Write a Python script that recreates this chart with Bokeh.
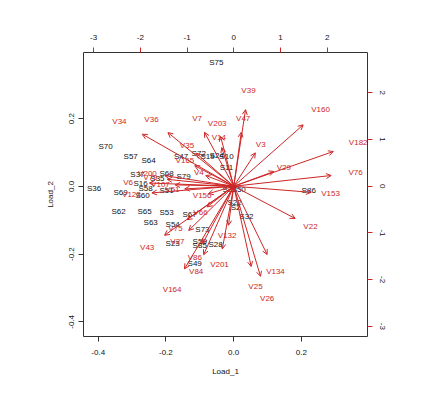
from bokeh.plotting import figure
from bokeh.models import Range1d, LinearAxis, FixedTicker, Arrow, OpenHead, ColumnDataSource
from bokeh.embed import file_html
from bokeh.resources import INLINE
from bokeh.core.properties import value

# ---- data -------------------------------------------------------------
sample_names = ["S75", "S70", "S57", "S64", "S47", "S72", "S19", "S24", "S10", "S11",
                "S68", "S79", "S37", "S35", "S16", "S58", "S51", "S36", "S69", "S60",
                "S62", "S65", "S53", "S67", "S63", "S54", "S73", "S23", "S59", "S85",
                "S28", "S49", "S86", "S32", "S22", "S2", "S33", "S50"]
sample_load1 = [-0.051, -0.378, -0.304, -0.251, -0.155, -0.103, -0.077, -0.050, -0.021, -0.021,
                -0.198, -0.148, -0.284, -0.225, -0.275, -0.260, -0.198, -0.412, -0.334, -0.269,
                -0.340, -0.263, -0.198, -0.130, -0.245, -0.180, -0.092, -0.180, -0.100, -0.100,
                -0.053, -0.115, 0.222, 0.038, 0.003, 0.006, -0.012, 0.015]
sample_load2 = [0.365, 0.119, 0.088, 0.076, 0.088, 0.097, 0.088, 0.091, 0.088, 0.057,
                0.039, 0.030, 0.034, 0.023, 0.008, -0.007, -0.013, -0.006, -0.019, -0.027,
                -0.075, -0.075, -0.077, -0.082, -0.107, -0.112, -0.128, -0.169, -0.162, -0.175,
                -0.173, -0.228, -0.013, -0.090, -0.048, -0.063, -0.010, -0.010]

var_names = ["V39", "V47", "V160", "V3", "V182", "V76", "V29", "V153", "V22", "V132",
             "V134", "V25", "V26", "V201", "V84", "V86", "V164", "V43", "V34", "V36",
             "V7", "V203", "V35", "V14", "V165", "V4", "V156", "V6", "V200", "V123",
             "V107", "V79", "V51", "V66", "V75", "V27"]
var_pc1 = [0.315, 0.201, 1.857, 0.578, 2.664, 2.606, 1.071, 2.071, 1.642, -0.141,
           0.893, 0.465, 0.715, -0.306, -0.805, -0.835, -1.319, -1.854, -2.448, -1.762,
           -0.784, -0.355, -1.002, -0.321, -1.045, -0.749, -0.677, -2.261, -1.848, -2.191,
           -1.570, -1.784, -1.313, -0.713, -1.248, -1.206]
var_pc2 = [2.049, 1.443, 1.642, 0.893, 0.929, 0.287, 0.394, -0.163, -0.863, -1.045,
           -1.827, -2.148, -2.411, -1.677, -1.833, -1.533, -2.212, -1.313, 1.392, 1.435,
           1.443, 1.336, 0.882, 1.036, 0.550, 0.287, -0.199, 0.086, 0.283, -0.178,
           0.036, 0.186, -0.071, -0.552, -0.895, -1.184]

load_ticks = [-0.4, -0.2, 0.0, 0.2]
load_tick_labels = ["-0.4", "-0.2", "0.0", "0.2"]
var_ticks = [-3, -2, -1, 0, 1, 2]
var_tick_labels = ["-3", "-2", "-1", "0", "1", "2"]
x_label = "Load_1"
y_label = "Load_2"

# ---- style ------------------------------------------------------------
RED = "#CD2626"
BLACK = "#111111"
FONT = "Liberation Sans"
FS = "8px"
ARROW_SCALE = 0.8

p = figure(frame_width=284, frame_height=284,
           min_border_left=83, min_border_right=48, min_border_top=52, min_border_bottom=53,
           x_range=Range1d(-0.4434, 0.3956), y_range=Range1d(-0.4434, 0.3956),
           output_backend="svg", toolbar_location=None, background_fill_color="white",
           border_fill_color="white")
p.extra_x_ranges = {"vx": Range1d(-3.217, 2.863)}
p.extra_y_ranges = {"vy": Range1d(-3.217, 2.863)}
p.grid.visible = False
p.outline_line_color = "#333333"
p.outline_line_width = 1

right_axis = LinearAxis(y_range_name="vy")
top_axis = LinearAxis(x_range_name="vx")
p.add_layout(top_axis, "above")
p.add_layout(right_axis, "right")

for ax in p.xaxis + p.yaxis:
    ax.axis_line_color = None
    ax.major_tick_in = 0
    ax.major_tick_out = 5
    ax.minor_tick_line_color = None
    ax.major_label_text_font = FONT
    ax.major_label_text_font_size = FS
    ax.major_label_text_color = BLACK
    ax.axis_label_text_font = FONT
    ax.axis_label_text_font_size = FS
    ax.axis_label_text_font_style = "normal"
    ax.axis_label_text_color = BLACK

bottom_axis = p.below[0]
left_axis = p.left[0]
bottom_axis.ticker = FixedTicker(ticks=load_ticks)
bottom_axis.major_label_overrides = dict(zip(load_ticks, load_tick_labels))
left_axis.ticker = FixedTicker(ticks=load_ticks)
left_axis.major_label_overrides = dict(zip(load_ticks, load_tick_labels))
bottom_axis.axis_label = x_label
left_axis.axis_label = y_label
bottom_axis.major_tick_line_color = "#333333"
left_axis.major_tick_line_color = "#333333"
bottom_axis.major_label_standoff = 8
bottom_axis.axis_label_standoff = 9
left_axis.major_label_orientation = "vertical"
left_axis.major_label_standoff = 4
left_axis.axis_label_standoff = 12

for ax in (top_axis, right_axis):
    ax.ticker = FixedTicker(ticks=var_ticks)
    ax.major_label_overrides = dict(zip(var_ticks, var_tick_labels))
    ax.major_tick_line_color = RED
top_axis.major_label_standoff = 8
right_axis.major_label_standoff = 7
right_axis.major_label_orientation = "vertical"

# sample labels
p.text(x=sample_load1, y=sample_load2, text=sample_names, text_color=BLACK,
       text_font=value(FONT), text_font_size=FS, text_align="center", text_baseline="middle")

# variable labels
p.text(x=var_pc1, y=var_pc2, text=var_names, text_color=RED, x_range_name="vx", y_range_name="vy",
       text_font=value(FONT), text_font_size=FS, text_align="center", text_baseline="middle")

# arrows
arr_src = ColumnDataSource(dict(
    x0=[0.0] * len(var_pc1), y0=[0.0] * len(var_pc2),
    x1=[ARROW_SCALE * v for v in var_pc1], y1=[ARROW_SCALE * v for v in var_pc2]))
p.add_layout(Arrow(end=OpenHead(size=5, line_color=RED, line_width=1),
                   x_start="x0", y_start="y0", x_end="x1", y_end="y1",
                   source=arr_src, line_color=RED, line_width=1,
                   x_range_name="vx", y_range_name="vy"))

open("out.html", "w").write(file_html(p, INLINE))
